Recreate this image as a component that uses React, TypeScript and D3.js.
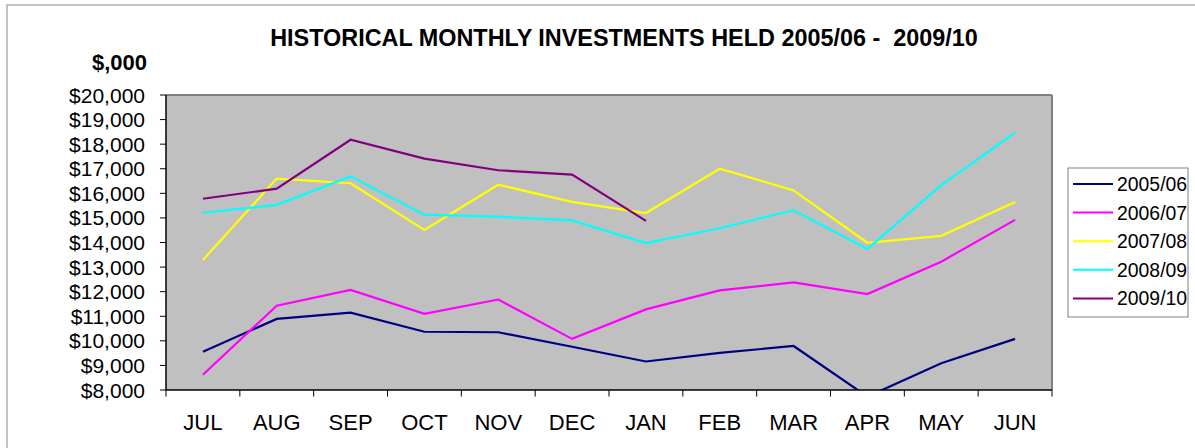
import React from "react";
import * as d3 from "d3";

const months = ["JUL", "AUG", "SEP", "OCT", "NOV", "DEC", "JAN", "FEB", "MAR", "APR", "MAY", "JUN"];
const seriesNames = ["2005/06", "2006/07", "2007/08", "2008/09", "2009/10"];
const seriesColors = ["#000080", "#FF00FF", "#FFFF00", "#00FFFF", "#800080"];

const s2005: (number | null)[] = [9560, 10890, 11150, 10370, 10350, 9760, 9160, 9510, 9790, 7730, 9090, 10080];
const s2006: (number | null)[] = [8620, 11430, 12070, 11100, 11680, 10080, 11280, 12050, 12380, 11900, 13220, 14920];
const s2007: (number | null)[] = [13290, 16600, 16410, 14510, 16350, 15650, 15200, 17000, 16120, 13990, 14270, 15650];
const s2008: (number | null)[] = [15210, 15530, 16690, 15130, 15050, 14900, 13980, 14580, 15310, 13740, 16330, 18470];
const s2009: (number | null)[] = [15780, 16190, 18180, 17410, 16940, 16760, 14880, null, null, null, null, null];
const allSeries = [s2005, s2006, s2007, s2008, s2009];

const yTicks = [8000, 9000, 10000, 11000, 12000, 13000, 14000, 15000, 16000, 17000, 18000, 19000, 20000];

const W = 1195;
const H = 448;
const plot = { left: 166, top: 95, right: 1052, bottom: 390 };
const FONT = "Arial, 'Liberation Sans', sans-serif";

export default function App() {
  const x = d3.scaleBand<string>().domain(months).range([plot.left, plot.right]);
  const y = d3.scaleLinear().domain([8000, 20000]).range([plot.bottom, plot.top]);
  const fmt = (v: number) => "$" + d3.format(",")(v);
  const line = d3
    .line<number | null>()
    .defined((d) => d !== null)
    .x((_, i) => (x(months[i]) as number) + x.bandwidth() / 2)
    .y((d) => y(d as number));

  const boundaries = months.map((m) => x(m) as number).concat([plot.right]);

  return (
    <svg
      width={W}
      height={H}
      style={{ position: "absolute", left: 0, top: 0, background: "#fff" }}
      fontFamily={FONT}
    >
      <defs>
        <clipPath id="plotclip">
          <rect x={plot.left} y={plot.top} width={plot.right - plot.left} height={plot.bottom - plot.top} />
        </clipPath>
      </defs>
      <rect x={0} y={0} width={W} height={H} fill="#fff" />
      {/* outer frame */}
      <rect x={7} y={5} width={W + 20} height={H + 20} fill="none" stroke="#b0b0b0" strokeWidth={1.5} />

      {/* title */}
      <text x={624} y={46} textAnchor="middle" fontSize={23.4} fontWeight="bold" fill="#000">
        HISTORICAL MONTHLY INVESTMENTS HELD 2005/06 -{"\u00a0\u00a0"}2009/10
      </text>
      <text x={147} y={70} textAnchor="end" fontSize={22} fontWeight="bold" fill="#000">
        $,000
      </text>

      {/* plot area */}
      <rect
        x={plot.left}
        y={plot.top}
        width={plot.right - plot.left}
        height={plot.bottom - plot.top}
        fill="#C0C0C0"
      />
      <line x1={plot.left} y1={plot.top} x2={plot.right} y2={plot.top} stroke="#808080" strokeWidth={2} />
      <line x1={plot.right} y1={plot.top} x2={plot.right} y2={plot.bottom} stroke="#808080" strokeWidth={2} />

      {/* series */}
      <g clipPath="url(#plotclip)">
        {allSeries.map((s, i) => (
          <path key={i} d={line(s) || ""} fill="none" stroke={seriesColors[i]} strokeWidth={2.2} />
        ))}
      </g>

      {/* y axis */}
      <line x1={plot.left} y1={plot.top} x2={plot.left} y2={plot.bottom} stroke="#000" strokeWidth={1.5} />
      {yTicks.map((t) => (
        <g key={t}>
          <line x1={plot.left - 6} x2={plot.left} y1={y(t)} y2={y(t)} stroke="#000" strokeWidth={1} />
          <text x={145} y={y(t)} dy="0.36em" textAnchor="end" fontSize={21} fill="#000">
            {fmt(t)}
          </text>
        </g>
      ))}

      {/* x axis */}
      <line x1={plot.left} y1={plot.bottom} x2={plot.right} y2={plot.bottom} stroke="#000" strokeWidth={1.5} />
      {boundaries.map((b, i) => (
        <line key={i} x1={b} x2={b} y1={plot.bottom} y2={plot.bottom + 6.5} stroke="#000" strokeWidth={1} />
      ))}
      {months.map((m) => (
        <text key={m} x={(x(m) as number) + x.bandwidth() / 2} y={430} textAnchor="middle" fontSize={22} fill="#000">
          {m}
        </text>
      ))}

      {/* legend */}
      <rect x={1068} y={168} width={120} height={149} fill="#fff" stroke="#808080" strokeWidth={1} />
      {seriesNames.map((n, i) => {
        const cy = 184 + i * 28.6;
        return (
          <g key={n}>
            <line x1={1073} x2={1113} y1={cy} y2={cy} stroke={seriesColors[i]} strokeWidth={2} />
            <text x={1117} y={cy} dy="0.36em" fontSize={19.4} fill="#000">
              {n}
            </text>
          </g>
        );
      })}
    </svg>
  );
}
